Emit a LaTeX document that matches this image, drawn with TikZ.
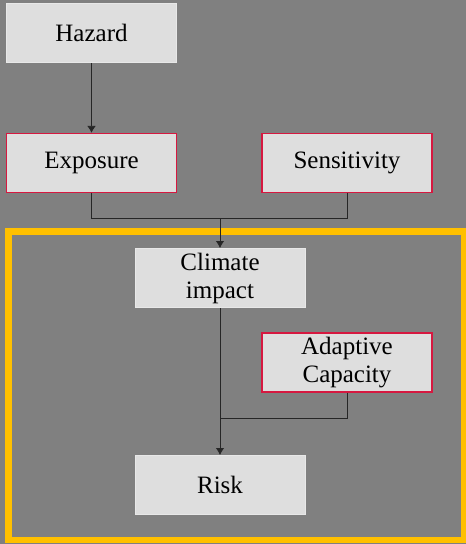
\documentclass[tikz,border=0pt]{standalone}
\usepackage{fontspec}
\setmainfont{Liberation Serif}
\usetikzlibrary{arrows.meta}
\definecolor{canvas}{RGB}{128,128,128}
\definecolor{boxgray}{RGB}{222,222,222}
\definecolor{rim}{RGB}{214,24,64}
\definecolor{amber}{RGB}{255,192,0}
\begin{document}
\begin{tikzpicture}[
      x=1pt,y=-1pt,
      factor/.style={rectangle,fill=boxgray,draw=boxgray!70!white,line width=1pt,
        minimum width=170pt,minimum height=59pt,inner sep=2pt,
        font=\fontsize{25}{28}\selectfont},
      weighted/.style={factor,draw=rim,line width=1.2pt},
      link/.style={draw=black!85,line width=0.8pt},
      predicate/.style={link,-{Latex[length=7pt,width=8.5pt]}},
      every text node part/.style={align=center},
    ]
    \fill[canvas] (0,0) rectangle (466,544);
    \useasboundingbox (0,0) rectangle (466,544);
    \draw[amber,line width=6.5pt] (8.3,231.7) rectangle (464.7,540);

    \node[factor] (Hazard) at (91.5,33) {Hazard};
    \node[weighted] (Exposure) at (91.5,163) {Exposure};
    \node[weighted] (Sensitivity) at (347,163) {Sensitivity};
    \node[factor] (Climate impact) at (220,278) {Climate\\impact};
    \node[weighted] (Adaptive Capacity) at (347,362.5) {Adaptive\\Capacity};
    \node[factor] (Risk) at (220,485) {Risk};
    \coordinate (impact join) at (220,218);
    \coordinate (risk join) at (220,418);

    \draw[predicate] (Hazard) -- (Exposure);
    \draw[link] (Exposure) |- (impact join);
    \draw[link] (Sensitivity) |- (impact join);
    \draw[predicate] (impact join) -- (Climate impact);
    \draw[predicate] (Climate impact) -- (Risk);
    \draw[link] (Adaptive Capacity) |- (risk join);
  \end{tikzpicture}
\end{document}
